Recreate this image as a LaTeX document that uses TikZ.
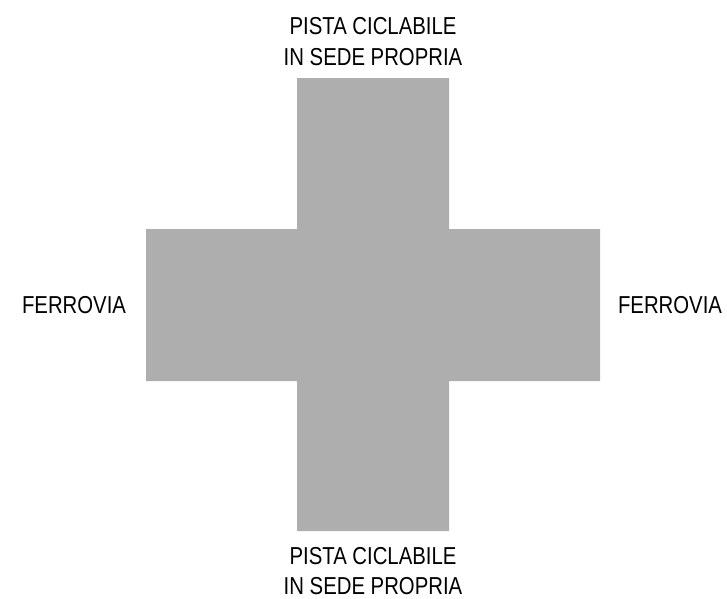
\documentclass[tikz,border=0pt]{standalone}
\usepackage{fontspec}
\setmainfont{Liberation Sans}
\definecolor{crossgray}{HTML}{AEAEAE}
\begin{document}
\begin{tikzpicture}[x=1pt,y=-1pt,
  lbl/.style={inner sep=0pt,anchor=base,font=\fontsize{24.5}{31}\selectfont,xscale=0.83,align=center}]
\useasboundingbox (0,0) rectangle (727,598);
\fill[crossgray] (297,78) -- (449,78) -- (449,229) -- (600,229) -- (600,381) -- (449,381) -- (449,531) -- (297,531) -- (297,381) -- (146,381) -- (146,229) -- (297,229) -- cycle;
\node[lbl] (t1) at (373,34) {PISTA CICLABILE};
\node[lbl] (t2) at (373,65) {IN SEDE PROPRIA};
\node[lbl] (b1) at (373,564.5) {PISTA CICLABILE};
\node[lbl] (b2) at (373,594) {IN SEDE PROPRIA};
\node[lbl] (l) at (74,313.5) {FERROVIA};
\node[lbl] (r) at (670,313.5) {FERROVIA};
\end{tikzpicture}
\end{document}
